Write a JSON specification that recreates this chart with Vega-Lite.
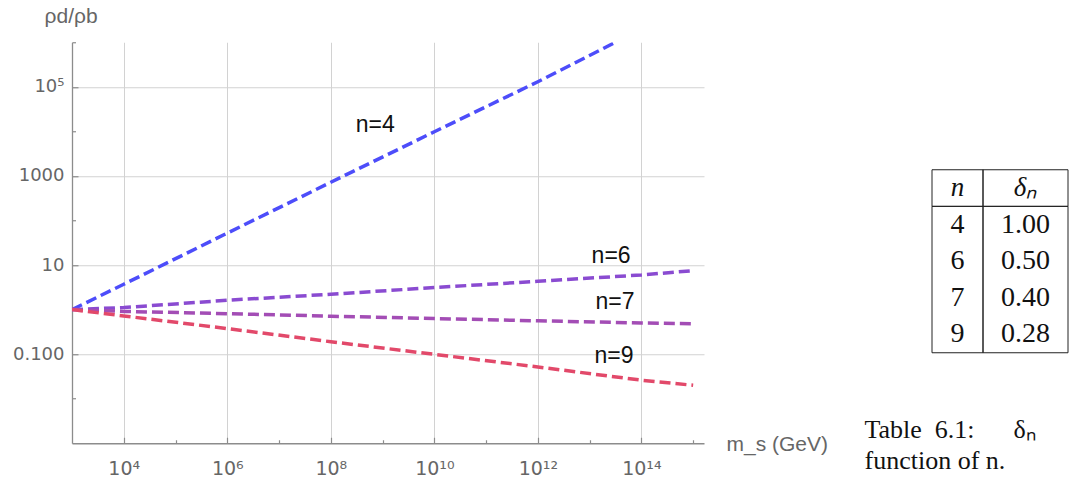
{
  "$schema": "https://vega.github.io/schema/vega-lite/v6.json",
  "padding": {"left": 12, "top": 5, "right": 0, "bottom": 0},
  "background": "white",
  "config": {"view": {"stroke": null}, "font": "Liberation Sans", "axis": {"labelFont": "DejaVu Sans", "titleFont": "Liberation Sans"}},
  "title": {
    "text": ["Table\u00a0\u00a06.1:\u00a0\u00a0\u00a0\u00a0\u00a0\u00a0δₙ", "function of n."],
    "orient": "bottom", "anchor": "end", "align": "left", "frame": "bounds",
    "dx": -204, "offset": -64,
    "font": "Liberation Serif", "fontSize": 26, "fontWeight": "normal", "lineHeight": 31, "color": "#111111"
  },
  "datasets": {
    "curves": [
      {"n": "4", "m": 1000, "r": 1}, {"n": "4", "m": 10000, "r": 3.7}, {"n": "4", "m": 1000000, "r": 52}, {"n": "4", "m": 100000000, "r": 720}, {"n": "4", "m": 10000000000, "r": 9800}, {"n": "4", "m": 1000000000000, "r": 130000}, {"n": "4", "m": 31600000000000, "r": 1000000},
      {"n": "6", "m": 1000, "r": 1}, {"n": "6", "m": 10000, "r": 1.11}, {"n": "6", "m": 1000000, "r": 1.62}, {"n": "6", "m": 100000000, "r": 2.21}, {"n": "6", "m": 10000000000, "r": 3.12}, {"n": "6", "m": 1000000000000, "r": 4.32}, {"n": "6", "m": 100000000000000, "r": 5.98}, {"n": "6", "m": 1000000000000000, "r": 7.5},
      {"n": "7", "m": 1000, "r": 1}, {"n": "7", "m": 10000, "r": 0.91}, {"n": "7", "m": 1000000, "r": 0.81}, {"n": "7", "m": 100000000, "r": 0.71}, {"n": "7", "m": 10000000000, "r": 0.63}, {"n": "7", "m": 1000000000000, "r": 0.56}, {"n": "7", "m": 100000000000000, "r": 0.5}, {"n": "7", "m": 1000000000000000, "r": 0.48},
      {"n": "9", "m": 1000, "r": 1}, {"n": "9", "m": 10000, "r": 0.72}, {"n": "9", "m": 1000000, "r": 0.375}, {"n": "9", "m": 100000000, "r": 0.19}, {"n": "9", "m": 10000000000, "r": 0.099}, {"n": "9", "m": 1000000000000, "r": 0.0515}, {"n": "9", "m": 100000000000000, "r": 0.026}, {"n": "9", "m": 1000000000000000, "r": 0.02}
    ],
    "labels": [
      {"label": "n=4", "m": 720000000, "r": 13800},
      {"label": "n=6", "m": 26000000000000, "r": 15.8},
      {"label": "n=7", "m": 31000000000000, "r": 1.46},
      {"label": "n=9", "m": 29500000000000, "r": 0.089}
    ],
    "table": [
      {"col": "n", "row": "h", "text": "n"}, {"col": "d", "row": "h", "text": "δₙ"},
      {"col": "n", "row": "4", "text": "4"}, {"col": "d", "row": "4", "text": "1.00"},
      {"col": "n", "row": "6", "text": "6"}, {"col": "d", "row": "6", "text": "0.50"},
      {"col": "n", "row": "7", "text": "7"}, {"col": "d", "row": "7", "text": "0.40"},
      {"col": "n", "row": "9", "text": "9"}, {"col": "d", "row": "9", "text": "0.28"}
    ]
  },
  "spacing": 103,
  "center": true,
  "align": "each",
  "hconcat": [
    {
      "width": 632,
      "height": 401,
      "layer": [
        {
          "data": {"name": "curves"},
          "mark": {"type": "line", "strokeWidth": 3.5, "strokeDash": [11, 5], "clip": true},
          "encoding": {
            "x": {
              "field": "m", "type": "quantitative",
              "scale": {"type": "log", "domain": [1000, 1620000000000000], "nice": false},
              "axis": {
                "values": [10000, 100000, 1000000, 10000000, 100000000, 1000000000, 10000000000, 100000000000, 1000000000000, 10000000000000, 100000000000000, 1000000000000000],
                "labelExpr": "round(log(datum.value)/LN10) == 4 ? '10⁴' : round(log(datum.value)/LN10) == 6 ? '10⁶' : round(log(datum.value)/LN10) == 8 ? '10⁸' : round(log(datum.value)/LN10) == 10 ? '10¹⁰' : round(log(datum.value)/LN10) == 12 ? '10¹²' : round(log(datum.value)/LN10) == 14 ? '10¹⁴' : ''",
                "labelFontSize": 19, "labelColor": "#666666", "labelPadding": 22, "labelFlush": false, "labelOverlap": false,
                "title": "m_s (GeV)", "titleX": 654, "titleY": 1, "titleAlign": "left", "titleBaseline": "middle", "titleAngle": 0,
                "titleFontSize": 21, "titleFontWeight": "normal", "titleColor": "#666666",
                "domainColor": "#8c8c8c", "domainWidth": 1.3,
                "tickColor": "#8c8c8c", "tickWidth": 1.2,
                "tickSize": {"condition": {"test": "round(log(datum.value)/LN10) % 2 == 0", "value": -6}, "value": -3.5},
                "grid": true, "gridColor": "#d2d2d2", "gridWidth": 1,
                "gridOpacity": {"condition": {"test": "round(log(datum.value)/LN10) % 2 == 0", "value": 1}, "value": 0}
              }
            },
            "y": {
              "field": "r", "type": "quantitative",
              "scale": {"type": "log", "domain": [0.001, 1000000], "nice": false},
              "axis": {
                "values": [0.01, 0.1, 1, 10, 100, 1000, 10000, 100000, 1000000],
                "labelExpr": "round(log(datum.value)/LN10) == 5 ? '10⁵' : round(log(datum.value)/LN10) == 3 ? '1000' : round(log(datum.value)/LN10) == 1 ? '10' : round(log(datum.value)/LN10) == -1 ? '0.100' : ''",
                "labelFontSize": 18, "labelColor": "#666666", "labelPadding": 14, "labelOverlap": false, "labelFlush": false,
                "title": "ρd/ρb", "titleX": -28, "titleY": -20, "titleAlign": "left", "titleBaseline": "alphabetic", "titleAngle": 0,
                "titleFontSize": 21, "titleFontWeight": "normal", "titleColor": "#666666",
                "domainColor": "#8c8c8c", "domainWidth": 1.3,
                "tickColor": "#8c8c8c", "tickWidth": 1.2,
                "tickSize": {"condition": {"test": "abs(round(log(datum.value)/LN10)) % 2 == 1", "value": -6}, "value": -3.5},
                "grid": true, "gridColor": "#d2d2d2", "gridWidth": 1,
                "gridOpacity": {"condition": {"test": "abs(round(log(datum.value)/LN10)) % 2 == 1", "value": 1}, "value": 0}
              }
            },
            "color": {"field": "n", "type": "nominal", "scale": {"domain": ["4", "6", "7", "9"], "range": ["#4d4dfa", "#8a4bd1", "#a34db5", "#e2496a"]}, "legend": null}
          }
        },
        {
          "data": {"name": "labels"},
          "mark": {"type": "text", "fontSize": 23, "color": "#111111", "font": "Liberation Sans"},
          "encoding": {
            "x": {"field": "m", "type": "quantitative"},
            "y": {"field": "r", "type": "quantitative"},
            "text": {"field": "label"}
          }
        }
      ]
    },
    {
      "spacing": 0,
      "bounds": "flush",
      "hconcat": [
        {
          "width": 51,
          "height": 183,
          "data": {"name": "table"},
          "transform": [{"filter": "datum.col == 'n'"}],
          "encoding": {
            "y": {"field": "row", "type": "nominal", "scale": {"domain": ["h", "4", "6", "7", "9"], "paddingInner": 0, "paddingOuter": 0}, "axis": null}
          },
          "layer": [
            {"transform": [{"filter": "datum.row == 'h'"}], "mark": {"type": "rect", "fill": "white", "fillOpacity": 0, "stroke": "#222222", "strokeWidth": 1}},
            {"transform": [{"filter": "datum.row == 'h'"}], "mark": {"type": "rect", "fill": "white", "fillOpacity": 0, "stroke": "#222222", "strokeWidth": 1},
             "encoding": {"y": {"datum": "4", "type": "nominal", "bandPosition": 0}, "y2": {"datum": "9", "bandPosition": 1}}},
            {"transform": [{"filter": "datum.row == 'h'"}], "mark": {"type": "text", "font": "Liberation Serif", "fontSize": 27, "fontStyle": "italic", "color": "#111111"}, "encoding": {"text": {"field": "text"}}},
            {"transform": [{"filter": "datum.row != 'h'"}], "mark": {"type": "text", "font": "Liberation Serif", "fontSize": 28, "color": "#111111"}, "encoding": {"text": {"field": "text"}}}
          ]
        },
        {
          "width": 85,
          "height": 183,
          "data": {"name": "table"},
          "transform": [{"filter": "datum.col == 'd'"}],
          "encoding": {
            "y": {"field": "row", "type": "nominal", "scale": {"domain": ["h", "4", "6", "7", "9"], "paddingInner": 0, "paddingOuter": 0}, "axis": null}
          },
          "layer": [
            {"transform": [{"filter": "datum.row == 'h'"}], "mark": {"type": "rect", "fill": "white", "fillOpacity": 0, "stroke": "#222222", "strokeWidth": 1}},
            {"transform": [{"filter": "datum.row == 'h'"}], "mark": {"type": "rect", "fill": "white", "fillOpacity": 0, "stroke": "#222222", "strokeWidth": 1},
             "encoding": {"y": {"datum": "4", "type": "nominal", "bandPosition": 0}, "y2": {"datum": "9", "bandPosition": 1}}},
            {"transform": [{"filter": "datum.row == 'h'"}], "mark": {"type": "text", "font": "Liberation Serif", "fontSize": 27, "fontStyle": "italic", "color": "#111111"}, "encoding": {"text": {"field": "text"}}},
            {"transform": [{"filter": "datum.row != 'h'"}], "mark": {"type": "text", "font": "Liberation Serif", "fontSize": 28, "color": "#111111"}, "encoding": {"text": {"field": "text"}}}
          ]
        }
      ]
    }
  ]
}
